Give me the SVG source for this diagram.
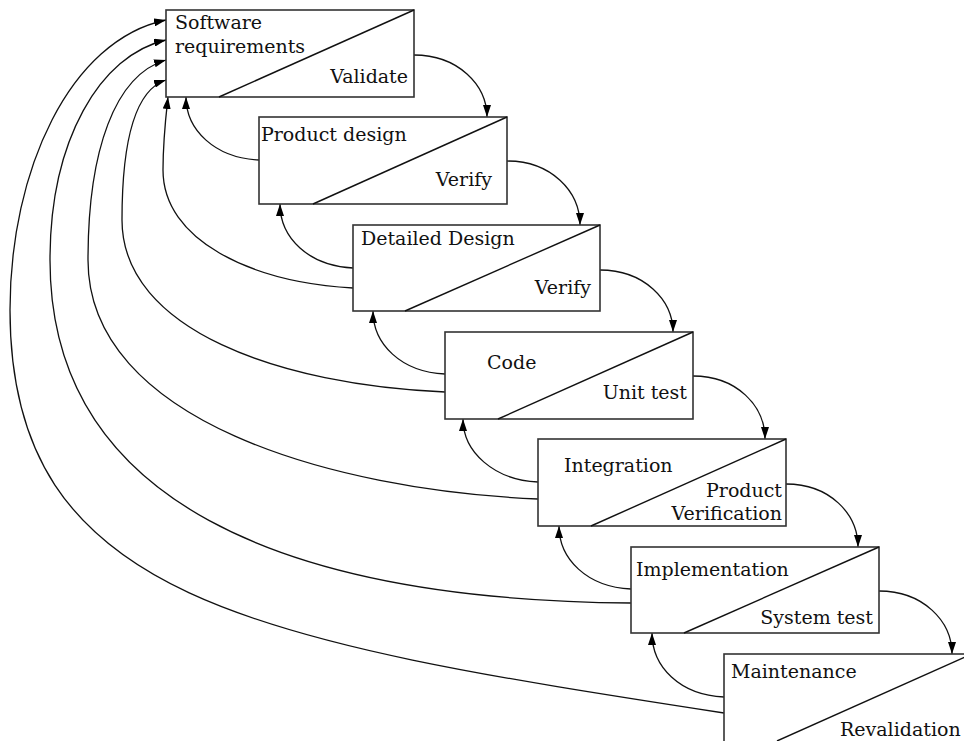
<svg xmlns="http://www.w3.org/2000/svg" width="964" height="741" viewBox="0 0 964 741">
<defs>
<marker id="ah" viewBox="0 0 12 8" refX="12" refY="4" markerWidth="12" markerHeight="8" markerUnits="userSpaceOnUse" orient="auto">
<path d="M0,0 L12,4 L0,8 Z" fill="#000"/>
</marker>
<style>
.box{fill:#fff;stroke:#333;stroke-width:1.6}
.diag{stroke:#111;stroke-width:1.4;fill:none}
.t{font-family:"DejaVu Serif","Liberation Serif",serif;font-size:19px;fill:#111}
.e{text-anchor:end}
.c{fill:none;stroke:#111;stroke-width:1.3;marker-end:url(#ah)}
</style>
</defs>
<rect width="964" height="741" fill="#fff"/>
<g id="connectors">
<path class="c" d="M414,55 C458,55 487,85 487,117"/>
<path class="c" d="M507,161 C551,161 580,191 580,225"/>
<path class="c" d="M600,270 C644,270 673,300 673,332"/>
<path class="c" d="M693,376 C737,376 765,406 765,439"/>
<path class="c" d="M786,484 C830,484 858,514 858,547"/>
<path class="c" d="M879,591 C923,591 952,621 952,654"/>
<path class="c" d="M259,160 C215,158 186,130 186,97"/>
<path class="c" d="M353,268 C309,266 280,238 280,204"/>
<path class="c" d="M445,374 C401,372 373,344 373,311"/>
<path class="c" d="M538,482 C494,480 463,452 463,419"/>
<path class="c" d="M631,589 C587,587 559,559 559,526"/>
<path class="c" d="M724,697 C680,695 652,667 652,633"/>
<path class="c" d="M353,288 C250,282 163,240 163,170 C163,140 166,115 168,97"/>
<path class="c" d="M445,392 C280,385 122,330 122,220 C122,140 135,90 166,80"/>
<path class="c" d="M538,499 C330,490 88,420 88,260 C88,150 115,75 166,60"/>
<path class="c" d="M631,603 C280,600 50,500 50,260 C50,140 100,55 166,40"/>
<path class="c" d="M724,713 C250,640 10,600 10,310 C10,170 70,40 166,20"/>
</g>
<g id="n1">
<rect class="box" x="166" y="10" width="248" height="87"/>
<line class="diag" x1="219" y1="97" x2="414" y2="10"/>
<text class="t" x="175" y="29">Software</text>
<text class="t" x="175" y="53">requirements</text>
<text class="t e" x="408" y="83">Validate</text>
</g>
<g id="n2">
<rect class="box" x="259" y="117" width="248" height="87"/>
<line class="diag" x1="313" y1="204" x2="507" y2="117"/>
<text class="t" x="261" y="141">Product design</text>
<text class="t e" x="492" y="186">Verify</text>
</g>
<g id="n3">
<rect class="box" x="353" y="225" width="247" height="86"/>
<line class="diag" x1="405" y1="311" x2="600" y2="225"/>
<text class="t" x="361" y="245">Detailed Design</text>
<text class="t e" x="591" y="294">Verify</text>
</g>
<g id="n4">
<rect class="box" x="445" y="332" width="248" height="87"/>
<line class="diag" x1="498" y1="419" x2="693" y2="332"/>
<text class="t" x="487" y="369">Code</text>
<text class="t e" x="687" y="399">Unit test</text>
</g>
<g id="n5">
<rect class="box" x="538" y="439" width="248" height="87"/>
<line class="diag" x1="591" y1="526" x2="786" y2="439"/>
<text class="t" x="564" y="472">Integration</text>
<text class="t e" x="782" y="497">Product</text>
<text class="t e" x="782" y="520">Verification</text>
</g>
<g id="n6">
<rect class="box" x="631" y="547" width="248" height="86"/>
<line class="diag" x1="684" y1="633" x2="879" y2="547"/>
<text class="t" x="636" y="576">Implementation</text>
<text class="t e" x="873" y="624">System test</text>
</g>
<g id="n7">
<rect class="box" x="724" y="654" width="248" height="90"/>
<line class="diag" x1="777" y1="741" x2="972" y2="654"/>
<text class="t" x="731" y="678">Maintenance</text>
<text class="t" x="840" y="736">Revalidation</text>
</g>
</svg>
